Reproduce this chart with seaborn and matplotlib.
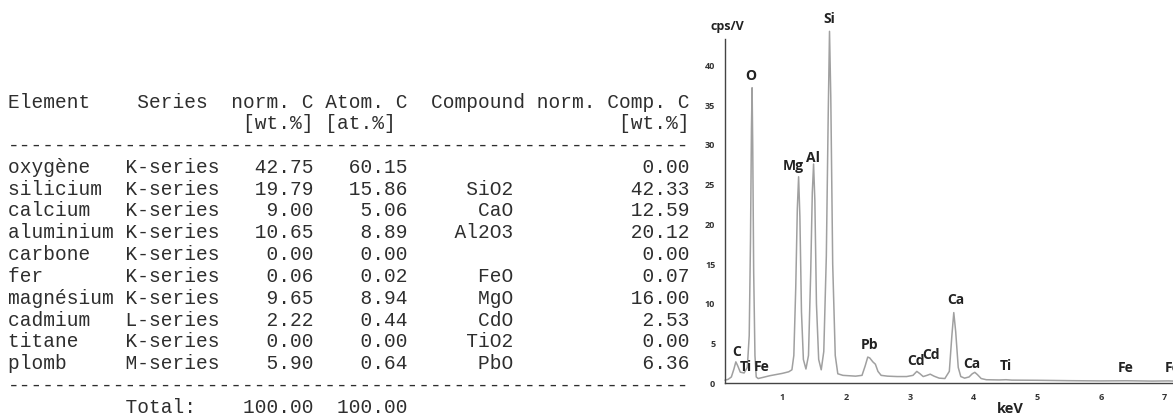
# EDX result: quantification table + spectrum

import seaborn as sns
import matplotlib.pyplot as plt
from matplotlib.ticker import MultipleLocator

# table data
elements = ['oxygène', 'silicium', 'calcium', 'aluminium', 'carbone',
            'fer', 'magnésium', 'cadmium', 'titane', 'plomb']
series = ['K-series', 'K-series', 'K-series', 'K-series', 'K-series',
          'K-series', 'K-series', 'L-series', 'K-series', 'M-series']
norm_c = ['42.75', '19.79', '9.00', '10.65', '0.00', '0.06', '9.65', '2.22', '0.00', '5.90']
atom_c = ['60.15', '15.86', '5.06', '8.89', '0.00', '0.02', '8.94', '0.44', '0.00', '0.64']
compound = ['', 'SiO2', 'CaO', 'Al2O3', '', 'FeO', 'MgO', 'CdO', 'TiO2', 'PbO']
comp_c = ['0.00', '42.33', '12.59', '20.12', '0.00', '0.07', '16.00', '2.53', '0.00', '6.36']
total_norm = '100.00'
total_atom = '100.00'

# spectrum (keV, cps/V)
energy = [0.10, 0.15, 0.20, 0.24, 0.27, 0.30, 0.34, 0.40, 0.45, 0.48, 0.50, 0.515,
          0.525, 0.535, 0.55, 0.57, 0.59, 0.62, 0.70, 0.80, 0.90, 1.00, 1.10, 1.15,
          1.18, 1.21, 1.235, 1.255, 1.275, 1.30, 1.33, 1.37, 1.41, 1.445, 1.47, 1.49,
          1.51, 1.535, 1.57, 1.61, 1.65, 1.69, 1.72, 1.74, 1.76, 1.79, 1.83, 1.87,
          1.95, 2.05, 2.15, 2.25, 2.30, 2.34, 2.37, 2.42, 2.46, 2.50, 2.55, 2.65,
          2.80, 2.95, 3.05, 3.11, 3.16, 3.21, 3.27, 3.32, 3.38, 3.46, 3.55, 3.62,
          3.66, 3.69, 3.72, 3.76, 3.80, 3.86, 3.93, 3.98, 4.02, 4.06, 4.12, 4.20,
          4.40, 4.51, 4.60, 5.00, 5.50, 6.00, 6.40, 6.80, 7.06, 7.15]
cps = [0.4, 0.5, 0.8, 1.8, 2.7, 2.2, 1.4, 1.3, 2.0, 6.0, 18.0, 32.0,
       37.2, 30.0, 14.0, 3.5, 0.8, 0.6, 0.75, 0.95, 1.1, 1.25, 1.45, 1.7,
       3.5, 12.0, 22.0, 26.0, 21.0, 9.0, 3.0, 1.8, 3.5, 14.0, 24.0, 27.6,
       23.0, 10.0, 3.0, 1.7, 4.0, 16.0, 34.0, 44.3, 36.0, 15.0, 3.5, 1.2,
       1.0, 0.95, 0.9, 1.0, 2.2, 3.3, 3.2, 2.7, 2.4, 1.5, 1.0, 0.9,
       0.85, 0.85, 1.0, 1.5, 1.2, 0.85, 1.0, 1.15, 0.9, 0.65, 0.6, 1.5,
       6.0, 8.9, 6.5, 2.0, 0.85, 0.65, 0.8, 1.2, 1.38, 1.1, 0.6, 0.45,
       0.42, 0.45, 0.4, 0.38, 0.33, 0.3, 0.32, 0.28, 0.3, 0.28]

# peak labels
peak_names = ['O', 'Si', 'Mg', 'Al', 'C', 'Ti', 'Fe', 'Pb', 'Cd', 'Cd',
              'Ca', 'Ca', 'Ti', 'Fe', 'Fe']
peak_x = [0.50, 1.74, 1.17, 1.48, 0.28, 0.42, 0.67, 2.37, 3.09, 3.33,
          3.72, 3.97, 4.50, 6.38, 7.12]
peak_y = [38.7, 45.8, 27.3, 28.3, 3.9, 2.1, 2.1, 4.8, 2.8, 3.6,
          10.5, 2.4, 2.2, 1.9, 1.9]

sns.set_style('white')
plt.rcParams['font.family'] = ['Open Sans', 'DejaVu Sans']

fig = plt.figure(figsize=(11.73, 4.18), dpi=100)

# --- left: the text table, placed in pixel coordinates
ax_t = fig.add_axes([0, 0, 1, 1])
ax_t.set_xlim(0, 1173)
ax_t.set_ylim(418, 0)
ax_t.axis('off')

lines = ['Element    Series  norm. C Atom. C  Compound norm. Comp. C',
         '{:20}[wt.%] [at.%]{:>25}'.format('', '[wt.%]'),
         '-' * 58]
for el, se, nc, ac, co, cc in zip(elements, series, norm_c, atom_c, compound, comp_c):
    lines.append('{:<10}{:<8}{:>8}{:>8}{:>9}{:>15}'.format(el, se, nc, ac, co, cc))
lines.append('-' * 58)
lines.append('{:10}Total:{:4}{}  {}'.format('', '', total_norm, total_atom))

for i, line in enumerate(lines):
    ax_t.text(8, 102 + 21.8 * i, line, family='Liberation Mono', fontsize=14.05,
              color='#2e2e2e', va='center', ha='left')

# --- right: the spectrum
ax = fig.add_axes([725 / 1173, 34.7 / 418, 448 / 1173, 344 / 418])
sns.lineplot(x=energy, y=cps, ax=ax, color='#a0a0a0', linewidth=1.1, clip_on=False)
ax.set_xlim(0.1, 7.13)
ax.set_ylim(0, 43.3)

ax.xaxis.set_major_locator(MultipleLocator(1))
ax.xaxis.set_minor_locator(MultipleLocator(0.2))
ax.yaxis.set_major_locator(MultipleLocator(5))
ax.yaxis.set_minor_locator(MultipleLocator(1))
ax.tick_params(axis='both', which='major', length=5, width=0.9, color='#444444',
               labelsize=6.5, pad=2, direction='out')
ax.tick_params(axis='both', which='minor', length=3, width=0.8, color='#444444')
ax.tick_params(axis='y', which='minor', direction='inout', length=5)
for lab in ax.get_xticklabels() + ax.get_yticklabels():
    lab.set_fontweight('bold')
    lab.set_color('#333333')

for side in ['top', 'right']:
    ax.spines[side].set_visible(False)
for side in ['left', 'bottom']:
    ax.spines[side].set_color('#444444')
    ax.spines[side].set_linewidth(1.0)

ax.set_xlabel('keV', fontsize=10.5, fontweight='bold', color='#222222')
ax.xaxis.set_label_coords((4.58 - 0.1) / 7.03, -0.055)
ax.text(0.14, 44.9, 'cps/V', fontsize=9, fontweight='bold', color='#222222',
        ha='center', va='center', clip_on=False)

for name, px, py in zip(peak_names, peak_x, peak_y):
    ax.text(px, py, name, fontsize=10, fontweight='bold', color='#222222',
            ha='center', va='center', clip_on=False)

fig.savefig('out.png', dpi=100)
